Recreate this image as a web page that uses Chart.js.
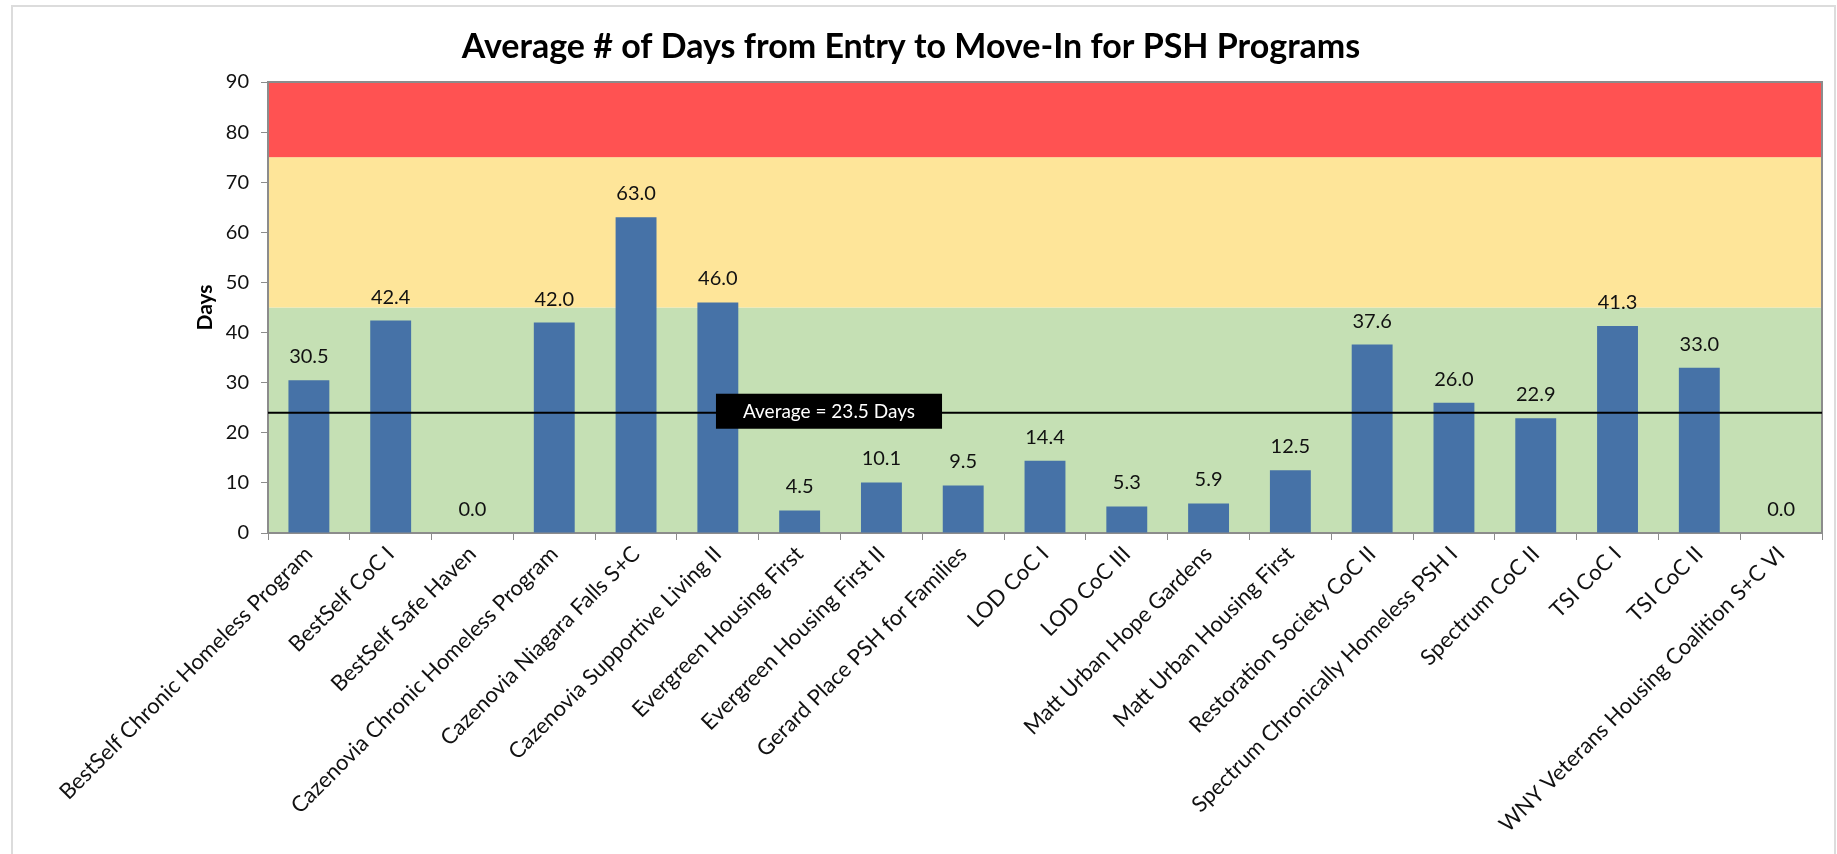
<!DOCTYPE html>
<html>
<head>
<meta charset="utf-8">
<script src="https://cdn.jsdelivr.net/npm/chart.js@4/dist/chart.umd.min.js"></script>
<style>
html,body{margin:0;padding:0;background:#fff;}
#wrap{width:1837px;height:854px;position:relative;overflow:hidden;}
</style>
</head>
<body>
<div id="wrap"><canvas id="c" width="1837" height="854"></canvas></div>
<script>
const chartTitle = 'Average # of Days from Entry to Move-In for PSH Programs';
const categories = [
  'BestSelf Chronic Homeless Program',
  'BestSelf CoC I',
  'BestSelf Safe Haven',
  'Cazenovia Chronic Homeless Program',
  'Cazenovia Niagara Falls S+C',
  'Cazenovia Supportive Living II',
  'Evergreen Housing First',
  'Evergreen Housing First II',
  'Gerard Place PSH for Families',
  'LOD CoC I',
  'LOD CoC III',
  'Matt Urban Hope Gardens',
  'Matt Urban Housing First',
  'Restoration Society CoC II',
  'Spectrum Chronically Homeless PSH I',
  'Spectrum CoC II',
  'TSI CoC I',
  'TSI CoC II',
  'WNY Veterans Housing Coalition S+C VI'
];
const days = [30.5, 42.4, 0.0, 42.0, 63.0, 46.0, 4.5, 10.1, 9.5, 14.4, 5.3, 5.9, 12.5, 37.6, 26.0, 22.9, 41.3, 33.0, 0.0];
const averageLinePosition = 24;
const averageLabel = 'Average = 23.5 Days';
const yAxisTitle = 'Days';
const yMin = 0, yMax = 90, yStep = 10;
const bandLimits = [0, 45, 75, 90];
const bandColors = ['#C5E0B4', '#FEE599', '#FF5252'];

const bgPlugin = {
  id: 'bgBands',
  beforeDraw(chart) {
    const {ctx, chartArea: a, scales: {y}} = chart;
    ctx.save();
    ctx.fillStyle = '#fff';
    ctx.fillRect(0, 0, chart.width, chart.height);
    ctx.strokeStyle = '#dcdcdc';
    ctx.lineWidth = 2;
    ctx.strokeRect(12, 6, chart.width - 14, chart.height + 20);
    for (let i = 0; i < bandColors.length; i++) {
      const y0 = y.getPixelForValue(bandLimits[i]);
      const y1 = y.getPixelForValue(bandLimits[i + 1]);
      ctx.fillStyle = bandColors[i];
      ctx.fillRect(a.left, y1, a.right - a.left, y0 - y1);
    }
    ctx.strokeStyle = '#8c8c8c';
    ctx.lineWidth = 2;
    ctx.strokeRect(a.left, a.top, a.right - a.left, a.bottom - a.top);
    ctx.restore();
  },
  afterDatasetsDraw(chart) {
    const {ctx, chartArea: a, scales: {y}} = chart;
    const py = y.getPixelForValue(averageLinePosition);
    ctx.save();
    ctx.strokeStyle = '#000';
    ctx.lineWidth = 2;
    ctx.beginPath();
    ctx.moveTo(a.left, py);
    ctx.lineTo(a.right, py);
    ctx.stroke();
    const meta = chart.getDatasetMeta(0);
    ctx.font = '20px Lato';
    ctx.fillStyle = '#111';
    ctx.textAlign = 'center';
    ctx.textBaseline = 'alphabetic';
    meta.data.forEach((bar, i) => {
      ctx.fillText(days[i].toFixed(1), bar.x, bar.y - 17);
    });
    ctx.font = '19px Lato';
    const w = ctx.measureText(averageLabel).width + 54;
    const cx = a.left + 0.361 * (a.right - a.left);
    ctx.fillStyle = '#000';
    ctx.fillRect(cx - w / 2, py - 19, w, 35);
    ctx.fillStyle = '#fff';
    ctx.textBaseline = 'middle';
    ctx.fillText(averageLabel, cx, py - 1);
    ctx.restore();
  }
};

new Chart(document.getElementById('c'), {
  type: 'bar',
  data: {
    labels: categories,
    datasets: [{
      data: days,
      backgroundColor: '#4672A7',
      borderWidth: 0,
      categoryPercentage: 1.0,
      barPercentage: 0.5
    }]
  },
  options: {
    responsive: false,
    animation: false,
    devicePixelRatio: 1,
    layout: {padding: {left: 0, right: 15, top: 0, bottom: 0}},
    plugins: {
      legend: {display: false},
      tooltip: {enabled: false},
      title: {
        display: true,
        text: chartTitle,
        color: '#000',
        font: {family: 'Lato', size: 34, weight: 'bold', lineHeight: 1.2},
        padding: {top: 27, bottom: 14.2}
      }
    },
    scales: {
      x: {
        grid: {display: true, drawOnChartArea: false, drawTicks: true, tickLength: 7, color: '#8c8c8c', offset: true},
        border: {display: true, color: '#8c8c8c', width: 2},
        ticks: {autoSkip: false, maxRotation: 45, minRotation: 45, padding: 1, color: '#111', font: {family: 'Lato', size: 22}},
        afterFit(s) { s.height = 321; s.paddingLeft = 0; s.paddingRight = 0; }
      },
      y: {
        min: yMin, max: yMax,
        ticks: {stepSize: yStep, padding: 12, color: '#111', font: {family: 'Lato', size: 20}},
        grid: {drawOnChartArea: false, drawTicks: true, tickLength: 7, color: '#8c8c8c'},
        border: {display: true, color: '#8c8c8c', width: 2},
        title: {display: true, text: yAxisTitle, color: '#000', font: {family: 'Lato', size: 21, weight: 'bold'}, padding: {top: 193, bottom: 0}},
        afterFit(s) { s.width = 268; s.paddingTop = 0; s.paddingBottom = 0; }
      }
    }
  },
  plugins: [bgPlugin]
});
</script>
</body>
</html>
